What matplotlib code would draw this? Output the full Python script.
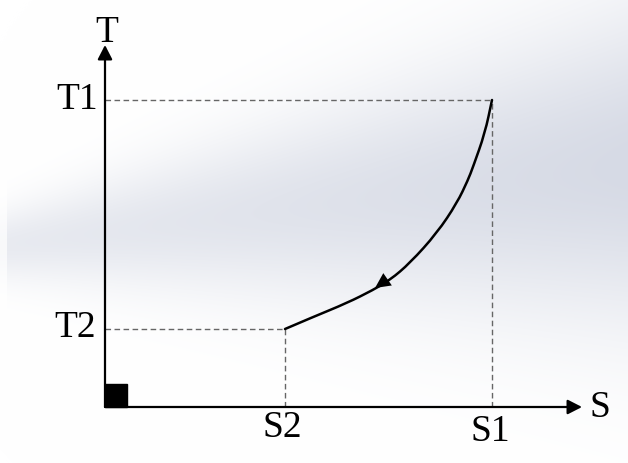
import numpy as np
import matplotlib
matplotlib.use("Agg")
import matplotlib.pyplot as plt
from matplotlib.patches import Rectangle, PathPatch
from matplotlib.path import Path

# ---- data (chart units, origin at the axis corner) ----
S_ticks = [180, 387]
S_tick_labels = ["S2", "S1"]
T_ticks = [78, 307]
T_tick_labels = ["T2", "T1"]
curve_S = [180, 208, 242, 268, 285, 305, 332, 352, 363, 368, 380, 387]
curve_T = [78, 90, 104, 117, 127, 144, 174, 204, 227, 240, 274, 307]
arrow_tip = (270, 119)
arrow_tail = (283, 128)
axis_len_S = 477
axis_len_T = 362

plt.rcParams['font.family'] = ['Liberation Serif', 'DejaVu Serif']

W, H = 628, 463
fig = plt.figure(figsize=(W / 100, H / 100), dpi=100)
ax = fig.add_axes([0, 0, 1, 1])
ax.set_xlim(-105, W - 105)
ax.set_ylim(407 - H, 407)
ax.axis('off')

# background gradient
yy, xx = np.mgrid[0:H, 0:W]
fx = xx / W
cy = 245 - 80 * fx
sy = 35 + 120 * fx
amp = 0.55 + 0.45 * fx
w = amp * np.exp(-((yy - cy) / sy) ** 2)
w[:, :7] *= 0.3
c_light = np.array([1.0, 1.0, 1.0])
c_dark = np.array([0xd6, 0xda, 0xe5]) / 255
img = c_light[None, None, :] * (1 - w[..., None]) + c_dark[None, None, :] * w[..., None]
ax.imshow(img, extent=(-105, W - 105, 407 - H, 407), origin='upper', zorder=0, aspect='auto')

# dashed guide lines
gkw = dict(color='#666666', lw=1.0, ls=(0, (4, 2.5)), zorder=2)
ax.plot([0, S_ticks[0]], [T_ticks[0], T_ticks[0]], **gkw)
ax.plot([S_ticks[0], S_ticks[0]], [0, T_ticks[0]], **gkw)
ax.plot([0, S_ticks[1]], [T_ticks[1], T_ticks[1]], **gkw)
ax.plot([S_ticks[1], S_ticks[1]], [0, T_ticks[1]], **gkw)

# axes with arrows
akw = dict(arrowstyle='-|>,head_length=0.43,head_width=0.22', color='black', lw=1.6,
           shrinkA=0, shrinkB=0, mutation_scale=20)
ax.annotate('', xy=(axis_len_S, 0), xytext=(0, 0), arrowprops=akw, zorder=3)
ax.annotate('', xy=(0, axis_len_T), xytext=(0, 0), arrowprops=akw, zorder=3)

# origin square
ax.add_patch(Rectangle((0, 0), 22, 23, color='black', zorder=4))

# smooth curve through the sampled points (quadratic segments via midpoints)
pts = list(zip(curve_S, curve_T))
verts = [pts[0]]
codes = [Path.MOVETO]
for i in range(1, len(pts) - 1):
    mid = ((pts[i][0] + pts[i + 1][0]) / 2, (pts[i][1] + pts[i + 1][1]) / 2)
    verts += [pts[i], mid]
    codes += [Path.CURVE3, Path.CURVE3]
verts.append(pts[-1])
codes.append(Path.LINETO)
ax.add_patch(PathPatch(Path(verts, codes), fill=False, edgecolor='black', lw=1.8,
                       zorder=3, capstyle='round'))
ax.annotate('', xy=arrow_tip, xytext=arrow_tail,
            arrowprops=dict(arrowstyle='-|>,head_length=0.55,head_width=0.27', color='black',
                            lw=0, shrinkA=0, shrinkB=0, mutation_scale=20), zorder=4)

# labels
fs = 27
ax.text(S_ticks[0] - 3, -21, S_tick_labels[0], fontsize=fs, ha='center', va='center')
ax.text(S_ticks[1] - 2, -25, S_tick_labels[1], fontsize=fs, ha='center', va='center')
ax.text(-30, T_ticks[0] + 1, T_tick_labels[0], fontsize=fs, ha='center', va='center')
ax.text(-28, T_ticks[1], T_tick_labels[1], fontsize=fs, ha='center', va='center')
ax.text(2, 374, 'T', fontsize=fs, ha='center', va='center')
ax.text(495, -1, 'S', fontsize=fs, ha='center', va='center')

fig.savefig('out.png', dpi=100)
